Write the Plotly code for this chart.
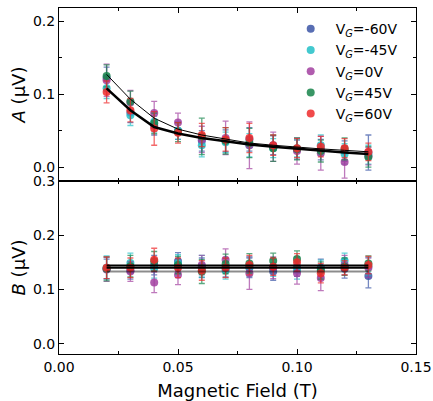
import plotly.graph_objects as go
from plotly.subplots import make_subplots

# magnetic field (T)
field = [0.02, 0.03, 0.04, 0.05, 0.06, 0.07, 0.08, 0.09, 0.10, 0.11, 0.12, 0.13]

labels = ['-60', '-45', '0', '45', '60']
colors = ['#3b55a6', '#22c0c7', '#a240a0', '#16844a', '#ee2a2b']
err_colors = ['rgba(59,85,166,0.7)', 'rgba(34,192,199,0.7)', 'rgba(162,64,160,0.7)',
              'rgba(22,132,74,0.7)', 'rgba(238,42,43,0.7)']

# A (uV)
a_m60 = [0.122, 0.075, 0.057, 0.050, 0.036, 0.036, 0.038, 0.030, 0.024, 0.024, 0.022, 0.020]
a_m45 = [0.108, 0.071, 0.062, 0.050, 0.030, 0.034, 0.030, 0.026, 0.026, 0.030, 0.018, 0.017]
a_0 = [0.119, 0.089, 0.074, 0.061, 0.038, 0.040, 0.030, 0.028, 0.022, 0.019, 0.007, 0.015]
a_p45 = [0.125, 0.090, 0.060, 0.048, 0.042, 0.036, 0.033, 0.026, 0.025, 0.022, 0.025, 0.014]
a_p60 = [0.103, 0.078, 0.053, 0.047, 0.044, 0.038, 0.040, 0.030, 0.026, 0.028, 0.026, 0.021]

a_m60_err = [0.015, 0.014, 0.013, 0.012, 0.014, 0.015, 0.016, 0.013, 0.013, 0.014, 0.014, 0.024]
a_m45_err = [0.014, 0.014, 0.014, 0.012, 0.016, 0.014, 0.016, 0.013, 0.012, 0.014, 0.014, 0.013]
a_0_err = [0.022, 0.016, 0.016, 0.013, 0.018, 0.023, 0.032, 0.020, 0.018, 0.023, 0.022, 0.012]
a_p45_err = [0.015, 0.014, 0.014, 0.013, 0.025, 0.018, 0.020, 0.018, 0.015, 0.015, 0.015, 0.014]
a_p60_err = [0.015, 0.016, 0.023, 0.014, 0.016, 0.016, 0.020, 0.014, 0.013, 0.014, 0.013, 0.012]

# B (uV)
b_m60 = [0.138, 0.135, 0.145, 0.152, 0.140, 0.140, 0.140, 0.133, 0.142, 0.140, 0.138, 0.125]
b_m45 = [0.140, 0.149, 0.139, 0.148, 0.143, 0.135, 0.142, 0.140, 0.135, 0.138, 0.153, 0.143]
b_0 = [0.137, 0.133, 0.113, 0.127, 0.145, 0.155, 0.130, 0.140, 0.130, 0.121, 0.145, 0.140]
b_p45 = [0.138, 0.143, 0.152, 0.145, 0.133, 0.147, 0.148, 0.153, 0.156, 0.135, 0.142, 0.148]
b_p60 = [0.140, 0.140, 0.155, 0.140, 0.135, 0.140, 0.145, 0.142, 0.150, 0.130, 0.140, 0.145]

b_m60_err = [0.018, 0.016, 0.018, 0.016, 0.018, 0.017, 0.018, 0.016, 0.018, 0.016, 0.017, 0.022]
b_m45_err = [0.022, 0.018, 0.018, 0.016, 0.020, 0.016, 0.018, 0.016, 0.016, 0.016, 0.014, 0.016]
b_0_err = [0.022, 0.018, 0.019, 0.018, 0.018, 0.020, 0.030, 0.020, 0.020, 0.023, 0.018, 0.018]
b_p45_err = [0.022, 0.020, 0.018, 0.016, 0.022, 0.018, 0.018, 0.014, 0.015, 0.016, 0.016, 0.014]
b_p60_err = [0.020, 0.018, 0.021, 0.018, 0.018, 0.018, 0.018, 0.016, 0.016, 0.018, 0.013, 0.016]

# fit curves
fit_a_thin = [0.127, 0.093, 0.067, 0.052, 0.044, 0.038, 0.033, 0.030, 0.027, 0.025, 0.023, 0.021]
fit_a_thick = [0.108, 0.078, 0.055, 0.046, 0.040, 0.035, 0.031, 0.028, 0.025, 0.022, 0.020, 0.018]
fit_b_1 = [0.144] * 12
fit_b_2 = [0.140] * 12
fit_b_3 = [0.133] * 12

a_vals = [a_m60, a_m45, a_0, a_p45, a_p60]
a_errs = [a_m60_err, a_m45_err, a_0_err, a_p45_err, a_p60_err]
b_vals = [b_m60, b_m45, b_0, b_p45, b_p60]
b_errs = [b_m60_err, b_m45_err, b_0_err, b_p45_err, b_p60_err]

fig = make_subplots(rows=2, cols=1, shared_xaxes=True, vertical_spacing=0)

for i in range(5):
    for row, vals, errs in [(1, a_vals[i], a_errs[i]), (2, b_vals[i], b_errs[i])]:
        fig.add_trace(
            go.Scatter(
                x=field,
                y=vals,
                mode='markers',
                name='V<sub><i>G</i></sub>=' + labels[i] + 'V',
                showlegend=(row == 1),
                marker=dict(color=colors[i], size=8, opacity=0.85),
                error_y=dict(type='data', array=errs, color=err_colors[i],
                             thickness=1.3, width=3),
            ),
            row=row, col=1
        )

fig.add_trace(go.Scatter(x=field, y=fit_a_thin, mode='lines',
                         line=dict(color='black', width=1), showlegend=False), row=1, col=1)
fig.add_trace(go.Scatter(x=field, y=fit_a_thick, mode='lines',
                         line=dict(color='black', width=2.5), showlegend=False), row=1, col=1)
fig.add_trace(go.Scatter(x=field, y=fit_b_3, mode='lines',
                         line=dict(color='rgba(0,0,0,0.45)', width=2), showlegend=False), row=2, col=1)
fig.add_trace(go.Scatter(x=field, y=fit_b_1, mode='lines',
                         line=dict(color='black', width=2), showlegend=False), row=2, col=1)
fig.add_trace(go.Scatter(x=field, y=fit_b_2, mode='lines',
                         line=dict(color='black', width=2), showlegend=False), row=2, col=1)

fig.update_layout(
    width=433,
    height=401,
    margin=dict(l=59, r=17, t=8, b=47),
    plot_bgcolor='#ffffff',
    paper_bgcolor='#ffffff',
    font=dict(family='DejaVu Sans', size=14, color='black'),
    legend=dict(
        x=0.635, y=0.985, xanchor='left', yanchor='top',
        font=dict(size=14), bgcolor='rgba(0,0,0,0)',
        itemwidth=40, tracegroupgap=0
    ),
)

fig.update_xaxes(
    range=[0, 0.15], dtick=0.05, tickformat='.2f', automargin=False,
    showline=True, linecolor='black', linewidth=1, mirror='ticks',
    ticks='inside', ticklen=5, tickcolor='black',
    minor=dict(dtick=0.025, ticks='inside', ticklen=3, tickcolor='black'),
    showgrid=False, zeroline=False
)
fig.update_xaxes(title=dict(text='Magnetic Field (T)', font=dict(size=18), standoff=10), row=2, col=1)

fig.update_yaxes(
    showline=True, linecolor='black', linewidth=1, mirror='ticks', automargin=False,
    ticks='inside', ticklen=5, tickcolor='black',
    showgrid=False, zeroline=False, tickformat='.1f', dtick=0.1
)
fig.update_yaxes(range=[-0.019, 0.218], minor=dict(dtick=0.05, ticks='inside', ticklen=3, tickcolor='black'),
                 title=dict(text='<i>A</i> (μV)', font=dict(size=18), standoff=2), row=1, col=1)
fig.update_yaxes(range=[-0.019, 0.3],
                 title=dict(text='<i>B</i> (μV)', font=dict(size=18), standoff=2), row=2, col=1)

fig.write_html("out.html", config={'displayModeBar': False},
               post_script="document.body.style.margin='0px';")
